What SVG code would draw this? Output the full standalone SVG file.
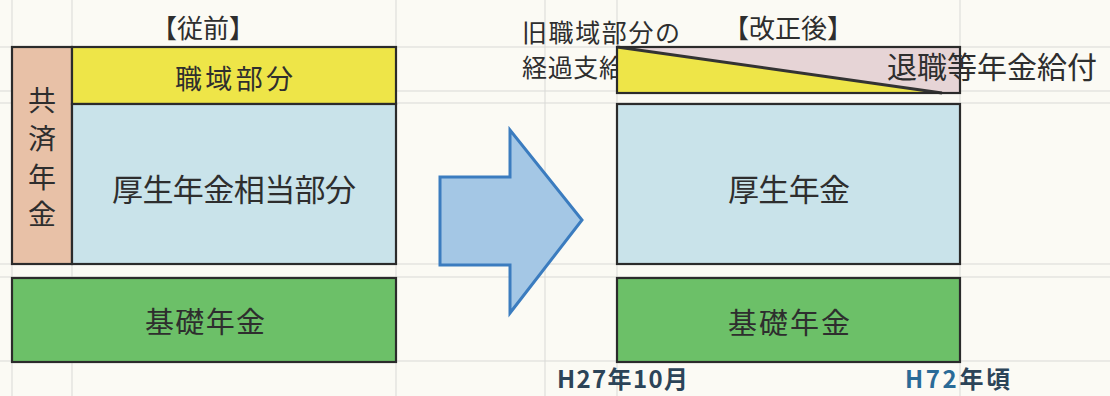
<svg xmlns="http://www.w3.org/2000/svg" width="1110" height="396" viewBox="0 0 1110 396">
<style>
.bg{fill:#fbfaf4}
.grid line{stroke:#d9d9d6;stroke-width:1}
.box{stroke:#2b2b2b;stroke-width:2.2}
.t{font-family:"Noto Sans CJK JP","Noto Sans CJK SC",sans-serif;fill:#2e2e2e;text-anchor:middle;dominant-baseline:central}
.ts{font-family:"Noto Sans CJK JP","Noto Sans CJK SC",sans-serif;fill:#2e2e2e;dominant-baseline:central}
.yel{fill:#eee548}
.blu{fill:#c9e3ea}
.grn{fill:#6cc068}
.pnk{fill:#e8c1a7}
.lil{fill:#e6d4d6}
.date{font-family:"Noto Sans CJK JP","Noto Sans CJK SC",sans-serif;fill:#2c4458;dominant-baseline:central;font-weight:bold}
</style>
<rect class="bg" x="0" y="0" width="1110" height="396"/>
<g class="grid">
<line x1="0" y1="47" x2="1110" y2="47"/>
<line x1="0" y1="91" x2="1110" y2="91"/>
<line x1="0" y1="103" x2="1110" y2="103"/>
<line x1="0" y1="264" x2="1110" y2="264"/>
<line x1="0" y1="277" x2="1110" y2="277"/>
<line x1="0" y1="361" x2="1110" y2="361"/>
<line x1="12" y1="0" x2="12" y2="396"/>
<line x1="72" y1="0" x2="72" y2="396"/>
<line x1="396" y1="0" x2="396" y2="396"/>
<line x1="545" y1="0" x2="545" y2="396"/>
<line x1="617" y1="0" x2="617" y2="396"/>
<line x1="960" y1="0" x2="960" y2="396"/>
</g>

<g id="before">
<text class="t" x="203" y="26" font-size="26">【従前】</text>
</g>
<g id="kyosai">
<rect class="box pnk" x="12" y="47" width="60" height="217"/>
<text class="t" x="42" y="99" font-size="28">共</text>
<text class="t" x="42" y="137" font-size="28">済</text>
<text class="t" x="42" y="176" font-size="28">年</text>
<text class="t" x="42" y="213" font-size="28">金</text>
</g>
<g id="shokuiki">
<rect class="box yel" x="72" y="47" width="324" height="57"/>
<text class="t" x="234" y="77" font-size="27" textLength="118" lengthAdjust="spacing">職域部分</text>
</g>
<g id="kosei-soto">
<rect class="box blu" x="72" y="104" width="324" height="160"/>
<text class="t" x="234" y="187" font-size="31" textLength="244" lengthAdjust="spacing">厚生年金相当部分</text>
</g>
<g id="kiso-before">
<rect class="box grn" x="12" y="278" width="384" height="84"/>
<text class="t" x="205" y="320" font-size="29" textLength="120" lengthAdjust="spacing">基礎年金</text>
</g>

<g id="connectors">
<polygon points="440,177 510,177 510,130 582,220 510,313 510,265 440,265" fill="#a4c7e5" stroke="#3b7cbf" stroke-width="3" stroke-linejoin="miter"/>
</g>

<g id="after">
<text class="t" x="788" y="26" font-size="26">【改正後】</text>
</g>
<g id="transition-label">
<text class="ts" x="522" y="31" font-size="25" textLength="158" lengthAdjust="spacing">旧職域部分の</text>
<text class="ts" x="522" y="66" font-size="25" textLength="102" lengthAdjust="spacing">経過支給</text>
</g>
<g id="taishoku">
<rect class="lil" x="617" y="47" width="343" height="46"/>
<polygon class="yel" points="617,47 942,93 617,93"/>
<line x1="617" y1="47" x2="942" y2="93" stroke="#333" stroke-width="3"/>
<rect class="box" x="617" y="47" width="343" height="46" fill="none"/>
<text class="ts" x="887" y="65" font-size="30" textLength="210" lengthAdjust="spacing">退職等年金給付</text>
</g>
<g id="kosei-after">
<rect class="box blu" x="617" y="104" width="343" height="160"/>
<text class="t" x="789" y="187" font-size="31" textLength="122" lengthAdjust="spacing">厚生年金</text>
</g>
<g id="kiso-after">
<rect class="box grn" x="617" y="278" width="343" height="84"/>
<text class="t" x="789" y="321" font-size="29" textLength="122" lengthAdjust="spacing">基礎年金</text>
</g>
<g id="dates">
<text class="date" x="557" y="377" font-size="24" textLength="131" lengthAdjust="spacing">H27年10月</text>
<text class="date" x="905" y="377" font-size="24" textLength="105" lengthAdjust="spacing"><tspan fill="#2a6b97">H72</tspan>年頃</text>
</g>
</svg>
